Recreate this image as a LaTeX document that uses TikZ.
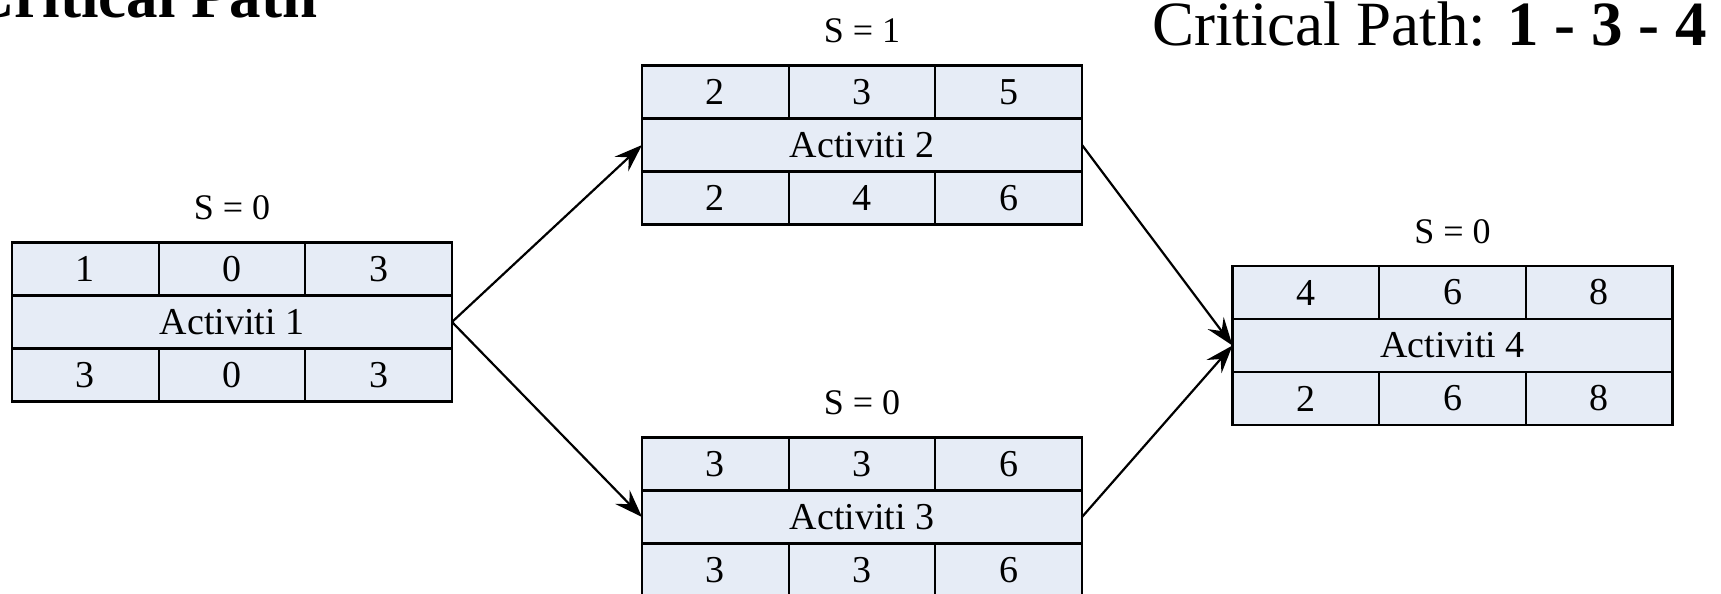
\documentclass[tikz,border=0pt]{standalone}
\usepackage{fontspec}
\setmainfont{Liberation Serif}
\usetikzlibrary{arrows.meta,calc}
\definecolor{cellfill}{RGB}{230,236,246}
\tikzset{
  cell/.style={draw=black, fill=cellfill, line width=1.1pt,
    minimum width=73.33pt, minimum height=26.5pt, inner sep=0pt, outer sep=0pt,
    font=\fontsize{19}{21}\selectfont, anchor=north west},
  wide/.style={cell, minimum width=220pt},
  frame/.style={minimum width=220pt, minimum height=79.5pt, inner sep=0pt, outer sep=0pt},
  slack/.style={anchor=base, font=\fontsize{18}{20}\selectfont, yshift=11.5pt},
  flow/.style={-{Stealth[length=14pt,width=10pt,inset=5pt]}, line width=1.1pt},
  heading/.style={anchor=base west, font=\fontsize{31.5}{36}\selectfont},
}
% Activity box: name, centre, top row (3), label, bottom row (3)
\newcommand\activitybox[9]{%
  \node[frame] (#1) at (#2) {};
  \node[cell] (#1-t1) at (#1.north west) {#3};
  \node[cell] (#1-t2) at (#1-t1.north east) {#4};
  \node[cell] (#1-t3) at (#1-t2.north east) {#5};
  \node[wide] (#1-mid) at (#1-t1.south west) {#6};
  \node[cell] (#1-b1) at (#1-mid.south west) {#7};
  \node[cell] (#1-b2) at (#1-b1.north east) {#8};
  \node[cell] (#1-b3) at (#1-b2.north east) {#9};
}
\begin{document}
\begin{tikzpicture}[x=0.5pt, y=-0.5pt]
  \useasboundingbox (0,0) rectangle (1721,594);

  \node[heading, font=\fontsize{31.5}{36}\selectfont\bfseries] (title) at (-38,18) {Critical Path};
  \node[heading] (result) at (1145,46) {Critical Path: \textbf{1 - 3 - 4}};

  \activitybox{a1}{232,322}{1}{0}{3}{Activiti 1}{3}{0}{3}
  \activitybox{a2}{862,145}{2}{3}{5}{Activiti 2}{2}{4}{6}
  \activitybox{a3}{862,517}{3}{3}{6}{Activiti 3}{3}{3}{6}
  \activitybox{a4}{1452.5,345.5}{4}{6}{8}{Activiti 4}{2}{6}{8}

  \node[slack] (a1-s) at (a1.north) {S = 0};
  \node[slack] (a2-s) at (a2.north) {S = 1};
  \node[slack] (a3-s) at (a3.north) {S = 0};
  \node[slack] (a4-s) at (a4.north) {S = 0};

  \draw[flow] (a1.east) -- (a2.west);
  \draw[flow] (a1.east) -- (a3.west);
  \draw[flow] (a2.east) -- (a4.west);
  \draw[flow] (a3.east) -- (a4.west);
\end{tikzpicture}
\end{document}
